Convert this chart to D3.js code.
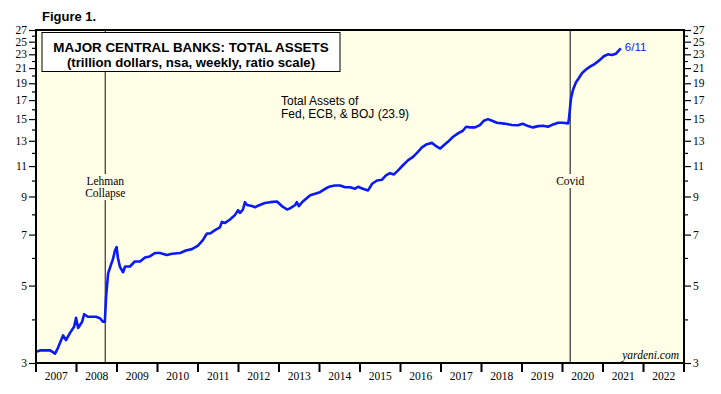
<!DOCTYPE html>
<html>
<head>
<meta charset="utf-8">
<script src="https://cdn.jsdelivr.net/npm/d3@7"></script>
<style>
  body { margin: 0; background: #fff; }
  svg { display: block; }
</style>
</head>
<body>
<div></div>
<script>
/* Chart data (decimal year, trillion dollars) */
var years = [2007.00, 2007.10, 2007.35, 2007.47, 2007.54, 2007.67, 2007.74, 2007.84, 2007.94, 2007.99,
  2008.04, 2008.14, 2008.19, 2008.28, 2008.38, 2008.48, 2008.58, 2008.65, 2008.70, 2008.73,
  2008.78, 2008.85, 2008.90, 2008.95, 2008.99, 2009.02, 2009.07, 2009.15, 2009.20, 2009.32,
  2009.44, 2009.57, 2009.69, 2009.81, 2009.94, 2010.06, 2010.23, 2010.36, 2010.56, 2010.70,
  2010.85, 2011.00, 2011.12, 2011.22, 2011.30, 2011.42, 2011.54, 2011.59, 2011.67, 2011.79,
  2011.91, 2011.99, 2012.04, 2012.11, 2012.16, 2012.21, 2012.33, 2012.41, 2012.48, 2012.65,
  2012.78, 2012.95, 2013.07, 2013.20, 2013.27, 2013.40, 2013.44, 2013.49, 2013.59, 2013.77,
  2013.89, 2014.01, 2014.14, 2014.26, 2014.38, 2014.51, 2014.63, 2014.75, 2014.88, 2014.95,
  2015.07, 2015.20, 2015.30, 2015.42, 2015.54, 2015.64, 2015.74, 2015.84, 2015.94, 2016.06,
  2016.19, 2016.31, 2016.43, 2016.53, 2016.65, 2016.78, 2016.88, 2016.98, 2017.07, 2017.17,
  2017.30, 2017.42, 2017.54, 2017.62, 2017.72, 2017.84, 2017.96, 2018.06, 2018.16, 2018.26,
  2018.38, 2018.51, 2018.63, 2018.75, 2018.90, 2019.02, 2019.15, 2019.27, 2019.40, 2019.52,
  2019.64, 2019.77, 2019.89, 2020.01, 2020.14, 2020.16, 2020.19, 2020.21, 2020.26, 2020.33,
  2020.41, 2020.48, 2020.58, 2020.68, 2020.80, 2020.91, 2021.02, 2021.12, 2021.22, 2021.32,
  2021.44];
var assets = [3.23, 3.26, 3.26, 3.19, 3.31, 3.60, 3.49, 3.66, 3.81, 4.04,
  3.78, 3.94, 4.14, 4.07, 4.07, 4.07, 4.03, 3.94, 3.94, 4.64,
  5.41, 5.73, 5.95, 6.30, 6.45, 6.03, 5.67, 5.46, 5.67, 5.67,
  5.86, 5.86, 6.02, 6.06, 6.20, 6.20, 6.12, 6.17, 6.20, 6.30,
  6.36, 6.51, 6.75, 7.05, 7.05, 7.21, 7.34, 7.61, 7.56, 7.73,
  7.96, 8.22, 8.08, 8.26, 8.67, 8.51, 8.45, 8.38, 8.47, 8.62,
  8.67, 8.71, 8.45, 8.26, 8.32, 8.51, 8.67, 8.45, 8.71, 9.07,
  9.16, 9.26, 9.47, 9.62, 9.68, 9.68, 9.57, 9.57, 9.47, 9.60,
  9.47, 9.37, 9.79, 10.00, 10.05, 10.34, 10.50, 10.41, 10.69, 11.06,
  11.44, 11.69, 12.08, 12.44, 12.71, 12.82, 12.54, 12.35, 12.62, 12.91,
  13.35, 13.65, 13.89, 14.26, 14.20, 14.20, 14.42, 14.84, 15.00, 14.84,
  14.64, 14.58, 14.52, 14.42, 14.40, 14.55, 14.32, 14.20, 14.32, 14.35,
  14.26, 14.48, 14.64, 14.64, 14.58, 15.07, 16.3, 17.2, 18.2, 19.1,
  19.7, 20.3, 20.8, 21.2, 21.6, 22.1, 22.7, 23.0, 22.9, 23.1,
  23.9];

var yearLabels = [2007, 2008, 2009, 2010, 2011, 2012, 2013, 2014, 2015, 2016, 2017, 2018, 2019, 2020, 2021, 2022];
var majorTicks = [3, 5, 7, 9, 11, 13, 15, 17, 19, 21, 23, 25, 27];
var minorTicks = [4, 6, 8, 10, 12, 14, 16, 18, 20, 22, 24, 26];
var events = [{year: 2008.71, label: ["Lehman", "Collapse"]}, {year: 2020.19, label: ["Covid"]}];

var W = 721, H = 394;
var pLeft = 36, pRight = 684, pTop = 30, pBottom = 363;

var svg = d3.select("body").select("div").append("svg")
  .attr("width", W).attr("height", H);

var x = d3.scaleLinear().domain([2007, 2023]).range([pLeft, pRight]);
var y = d3.scaleLog().domain([3, 27]).range([pBottom, pTop]);

var serif = "'Liberation Serif', 'Times New Roman', serif";
var sans = "'Liberation Sans', Arial, sans-serif";
var cream = "#fffee7";
var blue = "#0a1af5";

// plot background
svg.append("rect")
  .attr("x", pLeft).attr("y", pTop)
  .attr("width", pRight - pLeft).attr("height", pBottom - pTop)
  .style("fill", cream);

// event lines + labels (label box hides the line behind it)
events.forEach(function(e) {
  svg.append("line")
    .attr("x1", x(e.year)).attr("x2", x(e.year))
    .attr("y1", pTop).attr("y2", pBottom)
    .style("stroke", "#333").style("stroke-width", 1.2);
  var lbl = svg.append("g");
  var h = e.label.length * 12;
  lbl.append("rect")
    .attr("x", x(e.year) - 24).attr("y", 174)
    .attr("width", 48).attr("height", h + 2)
    .style("fill", cream);
  e.label.forEach(function(t, i) {
    lbl.append("text")
      .attr("x", x(e.year)).attr("y", 185 + i * 12)
      .attr("text-anchor", "middle")
      .style("font-family", serif).style("font-size", "11.5px")
      .text(t);
  });
});

// the series
var line = d3.line()
  .x(function(d, i) { return x(years[i]); })
  .y(function(d) { return y(d); });

svg.append("path")
  .datum(assets)
  .attr("d", line)
  .style("fill", "none")
  .style("stroke", blue)
  .style("stroke-width", 2.6)
  .style("stroke-linejoin", "round");

// last value label
svg.append("text")
  .attr("x", x(years[years.length - 1]) + 4).attr("y", 51)
  .style("font-family", sans).style("font-size", "11.5px")
  .style("fill", blue)
  .text("6/11");

// y axes, same on both sides
function yAxis(axisFn, xpos) {
  var gMaj = svg.append("g").attr("transform", "translate(" + xpos + ",0)")
    .call(axisFn(y).tickValues(majorTicks).tickSize(7).tickPadding(2).tickFormat(d3.format("d")));
  var gMin = svg.append("g").attr("transform", "translate(" + xpos + ",0)")
    .call(axisFn(y).tickValues(minorTicks).tickSize(4).tickFormat(""));
  [gMaj, gMin].forEach(function(g) {
    g.select(".domain").remove();
    g.selectAll("line").style("stroke", "#000").style("stroke-width", 1.2);
    g.selectAll("text").style("font-family", serif).style("font-size", "11.5px").style("fill", "#000");
  });
}
yAxis(d3.axisLeft, pLeft);
yAxis(d3.axisRight, pRight);

// x axis: ticks at year boundaries, labels centred in each year
var xg = svg.append("g").attr("transform", "translate(0," + pBottom + ")");
xg.selectAll("line.yt")
  .data(yearLabels.concat([2023]))
  .enter().append("line")
  .attr("x1", function(d) { return x(d); }).attr("x2", function(d) { return x(d); })
  .attr("y1", 0).attr("y2", 9)
  .style("stroke", "#000").style("stroke-width", 2);
xg.selectAll("text")
  .data(yearLabels)
  .enter().append("text")
  .attr("x", function(d) { return x(d + 0.5); })
  .attr("y", 17)
  .attr("text-anchor", "middle")
  .style("font-family", serif).style("font-size", "11.5px")
  .text(function(d) { return d; });

// frame
svg.append("rect")
  .attr("x", pLeft).attr("y", pTop)
  .attr("width", pRight - pLeft).attr("height", pBottom - pTop)
  .style("fill", "none").style("stroke", "#000").style("stroke-width", 2);

// title box
svg.append("rect")
  .attr("x", 42).attr("y", 32.5)
  .attr("width", 298).attr("height", 39)
  .style("fill", "#fff").style("stroke", "#000").style("stroke-width", 1);
svg.append("text")
  .attr("x", 191).attr("y", 51.5)
  .attr("text-anchor", "middle")
  .style("font-family", sans).style("font-weight", "bold").style("font-size", "13.4px")
  .text("MAJOR CENTRAL BANKS: TOTAL ASSETS");
svg.append("text")
  .attr("x", 191).attr("y", 67)
  .attr("text-anchor", "middle")
  .style("font-family", sans).style("font-weight", "bold").style("font-size", "13.2px")
  .text("(trillion dollars, nsa, weekly, ratio scale)");

svg.append("text")
  .attr("x", 42).attr("y", 21)
  .style("font-family", sans).style("font-weight", "bold").style("font-size", "13px")
  .text("Figure 1.");

svg.append("text")
  .attr("x", 281).attr("y", 105)
  .style("font-family", sans).style("font-size", "12px")
  .text("Total Assets of");
svg.append("text")
  .attr("x", 281).attr("y", 118)
  .style("font-family", sans).style("font-size", "12px")
  .text("Fed, ECB, & BOJ (23.9)");

svg.append("text")
  .attr("x", 679).attr("y", 359)
  .attr("text-anchor", "end")
  .style("font-family", serif).style("font-style", "italic").style("font-size", "11.5px")
  .text("yardeni.com");
</script>
</body>
</html>
